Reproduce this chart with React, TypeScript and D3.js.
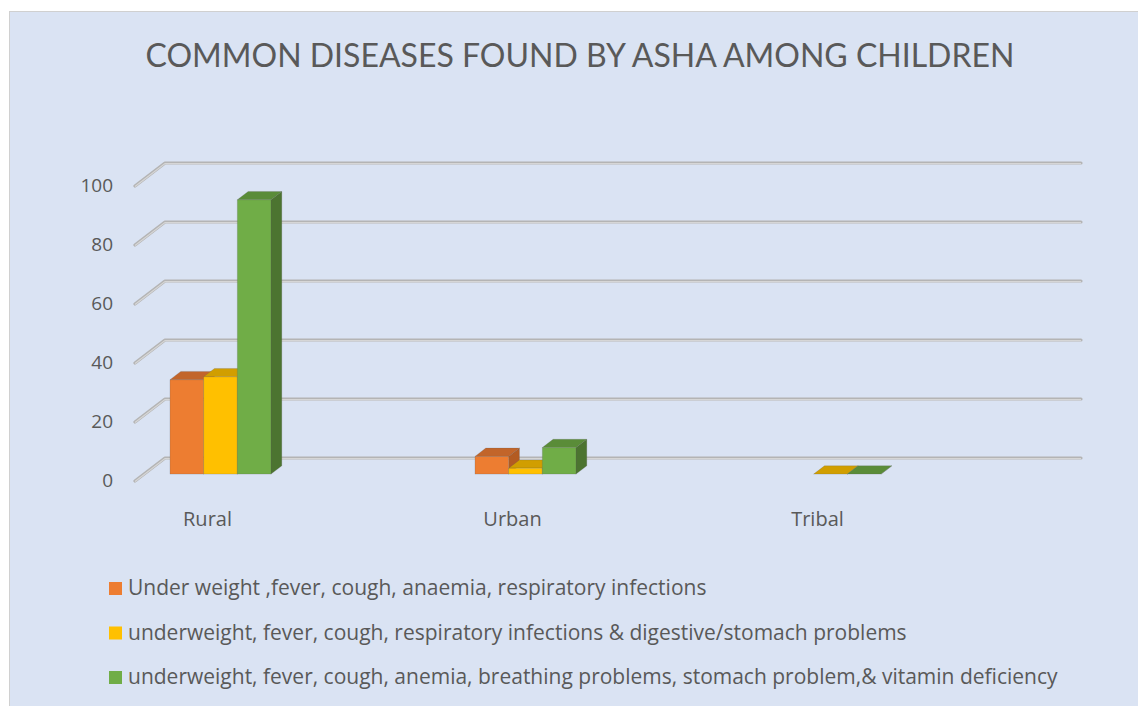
import React from "react";
import * as d3 from "d3";

const categories = ["Rural", "Urban", "Tribal"];
const seriesNames = [
  "Under weight ,fever, cough, anaemia, respiratory infections",
  "underweight, fever, cough, respiratory infections & digestive/stomach problems",
  "underweight, fever, cough, anemia, breathing problems, stomach problem,& vitamin deficiency",
];
const underweightFever: (number | null)[] = [32, 6, null];
const underweightDigestive: (number | null)[] = [33, 2, 0];
const underweightVitamin: (number | null)[] = [93, 9, 0];
const yTicks = [0, 20, 40, 60, 80, 100];
const title = "COMMON DISEASES FOUND BY ASHA AMONG CHILDREN";

const seriesValues = [underweightFever, underweightDigestive, underweightVitamin];
const colors = [
  { front: "#ED7D31", top: "#C2652A", side: "#B35B22" },
  { front: "#FFC000", top: "#D19E00", side: "#BF8F00" },
  { front: "#70AD47", top: "#5A8C38", side: "#4C7430" },
];

const W = 1138;
const H = 706;
const FONT = "Lato, 'Open Sans', sans-serif";
const FONT2 = "'Open Sans', Lato, sans-serif";
const TXT = "#595959";

// 3D projection: depth vector from front (z=0) to back (z=1)
const DX = 30;
const DY = -23;
const y = d3.scaleLinear().domain([0, 100]).range([481, 186]); // front plane
const xFrontLeft = 135;
const xFrontRight = 1051;
const xCenter = d3.scalePoint<string>().domain(categories).range([211.5, 821.5]);
const xSub = d3.scaleBand<number>().domain([0, 1, 2]).range([-50.5, 50.5]).padding(0);
const z0 = 0.3;
const z1 = 0.66;

function P(x: number, v: number, z: number): [number, number] {
  return [x + z * DX, y(v) + z * DY];
}
function poly(pts: [number, number][]) {
  return pts.map((p) => p.join(",")).join(" ");
}

export default function App() {
  const bars: React.ReactNode[] = [];
  categories.forEach((cat, ci) => {
    seriesValues.forEach((vals, si) => {
      const v = vals[ci];
      if (v === null || v === undefined) return;
      const xl = (xCenter(cat) as number) + (xSub(si) as number);
      const xr = xl + xSub.bandwidth();
      const c = colors[si];
      const front = [P(xl, 0, z0), P(xr, 0, z0), P(xr, v, z0), P(xl, v, z0)] as [number, number][];
      const top = [P(xl, v, z0), P(xr, v, z0), P(xr, v, z1), P(xl, v, z1)] as [number, number][];
      const side = [P(xr, 0, z0), P(xr, 0, z1), P(xr, v, z1), P(xr, v, z0)] as [number, number][];
      bars.push(
        <g key={`${ci}-${si}`}>
          <polygon points={poly(side)} fill={c.side} stroke="rgba(90,90,90,0.35)" strokeWidth={0.6} />
          <polygon points={poly(top)} fill={c.top} stroke="rgba(90,90,90,0.35)" strokeWidth={0.6} />
          {v > 0 && (
            <polygon points={poly(front)} fill={c.front} stroke="rgba(90,90,90,0.35)" strokeWidth={0.6} />
          )}
        </g>
      );
    });
  });

  return (
    <svg
      width={W}
      height={H}
      style={{ position: "absolute", left: 0, top: 0, display: "block" }}
      fontFamily={FONT}
    >
      <rect x={0} y={0} width={W} height={H} fill="#ffffff" />
      <rect x={9.5} y={11.5} width={W + 10} height={H + 10} fill="#DAE3F3" stroke="#D0D0D0" strokeWidth={1} />
      <text x={580} y={67} textAnchor="middle" fontSize={32} fill={TXT}>
        {title}
      </text>

      {yTicks.map((t) => {
        const a = P(xFrontLeft, t, 0);
        const b = P(xFrontLeft, t, 1);
        const c = P(xFrontRight, t, 1);
        const d = `M${a[0]},${a[1]}L${b[0]},${b[1]}L${c[0]},${c[1]}`;
        return (
          <g key={t}>
            <path d={d} fill="none" stroke="#B4B4B4" strokeWidth={3.2} strokeLinejoin="round" strokeLinecap="round" />
            <path d={d} fill="none" stroke="#D6D6D6" strokeWidth={1.2} transform="translate(0,0.6)" />
            <text x={113} y={a[1] + 1} textAnchor="end" dominantBaseline="middle" fontSize={19} fill={TXT} fontFamily={FONT2}>
              {t}
            </text>
          </g>
        );
      })}

      {bars}

      {categories.map((cat) => (
        <text key={cat} x={(xCenter(cat) as number) - 4} y={526} textAnchor="middle" fontSize={20} fill={TXT} fontFamily={FONT2}>
          {cat}
        </text>
      ))}

      {seriesNames.map((name, i) => (
        <g key={name}>
          <rect x={109} y={582 + i * 44.5} width={13} height={13} fill={colors[i].front} />
          <text x={128} y={595 + i * 44.5} fontSize={21} fill={TXT} fontFamily={FONT2}>
            {name}
          </text>
        </g>
      ))}
    </svg>
  );
}
